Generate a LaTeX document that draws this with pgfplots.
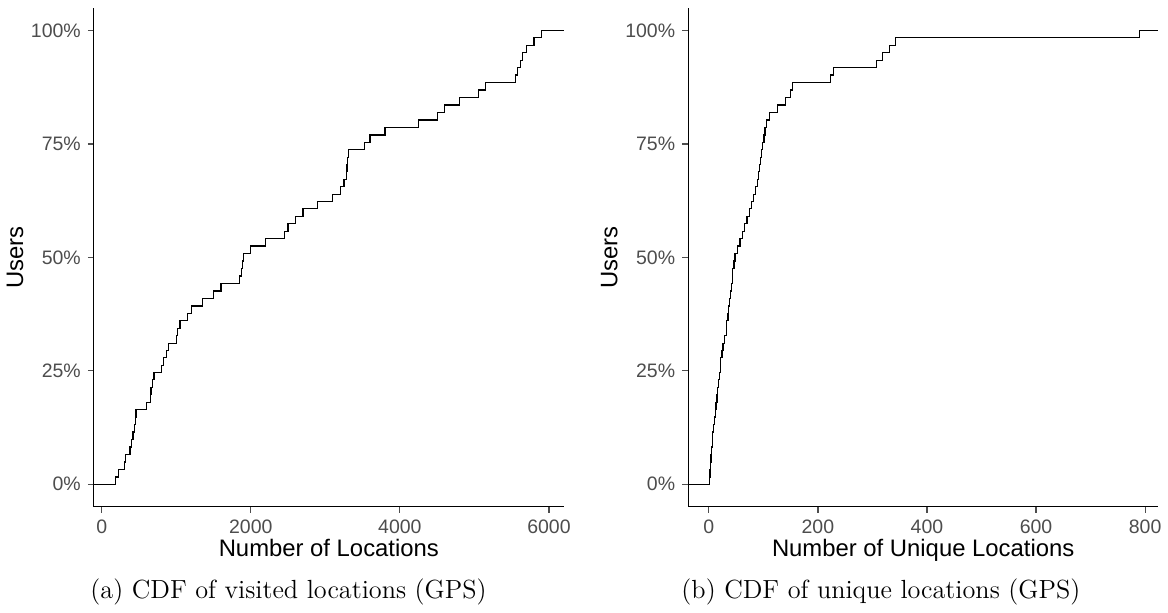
\documentclass[border=0pt]{standalone}
\usepackage{pgfplots}
\pgfplotsset{compat=1.18}
\usepackage{fontspec}
\newfontfamily\hv{Liberation Sans}
\definecolor{tickgray}{RGB}{77,77,77}
\pgfplotsset{gg/.style={
  scale only axis, width=236.5pt, height=251pt,
  axis x line*=bottom, axis y line*=left,
  axis line style={black, line width=0.6pt},
  tick align=outside, major tick length=3pt,
  tick style={tickgray, line width=0.6pt},
  ticklabel style={font=\hv\fontsize{9.8}{11}\selectfont, text=tickgray},
  /pgf/number format/assume math mode=true,
  /pgf/number format/1000 sep={},
  label style={font=\hv\fontsize{12}{14}\selectfont},
  ymin=-5, ymax=105, ytick={0,25,50,75,100},
  yticklabels={0\%,25\%,50\%,75\%,100\%},
  ylabel={Users},
  xlabel style={yshift=4pt}, ylabel style={yshift=-3pt},
  anchor=south west,
}}
\begin{document}
\begin{tikzpicture}
\path (0,0) rectangle (584pt,-307pt);
\begin{axis}[gg, at={(44pt,-255pt)}, xmin=-107, xmax=6200, xtick={0,2000,4000,6000},
  xlabel={Number of Locations}]
\addplot[const plot, black, line width=0.6pt] coordinates {
(-107,0)(190,1.6)(230,3.3)(300,4.9)(320,6.6)(380,8.2)(400,9.8)(420,11.5)(440,13.1)(450,14.8)(460,16.4)
(600,18.0)(650,19.7)(660,21.3)(680,23.0)(700,24.6)(800,26.2)(830,27.9)(870,29.5)(900,31.1)(1000,32.8)
(1020,34.4)(1050,36.1)(1150,37.7)(1200,39.3)(1350,41.0)(1500,42.6)(1600,44.3)(1850,45.9)(1870,47.5)
(1890,49.2)(1900,50.8)(2000,52.5)(2200,54.1)(2450,55.7)(2500,57.4)(2600,59.0)(2700,60.7)(2900,62.3)
(3100,63.9)(3200,65.6)(3250,67.2)(3280,68.9)(3290,70.5)(3300,72.1)(3310,73.8)(3520,75.4)(3600,77.0)
(3800,78.7)(4250,80.3)(4500,82.0)(4600,83.6)(4800,85.2)(5050,86.9)(5150,88.5)(5550,90.2)(5580,91.8)
(5620,93.4)(5650,95.1)(5700,96.7)(5800,98.4)(5900,100)(6200,100)};
\end{axis}
\begin{axis}[gg, at={(343pt,-255pt)}, xmin=-38, xmax=824, xtick={0,200,400,600,800},
  xlabel={Number of Unique Locations}]
\addplot[const plot, black, line width=0.6pt] coordinates {
(-38,0)(1,1.6)(2,3.3)(3,4.9)(4,6.6)(5,8.2)(6,9.8)(7,11.5)(9,13.1)(10,14.8)(12,16.4)(13,18.0)
(15,19.7)(16,21.3)(18,23.0)(19,24.6)(21,26.2)(22,27.9)(24,29.5)(26,31.1)(28,32.8)(32,34.4)
(33,36.1)(35,37.7)(36,39.3)(38,41.0)(39,42.6)(41,44.3)(43,45.9)(44,47.5)(46,49.2)(48,50.8)(52,52.5)
(57,54.1)(62,55.7)(66,57.4)(70,59.0)(74,60.7)(78,62.3)(82,63.9)(86,65.6)(89,67.2)(91,68.9)(93,70.5)
(95,72.1)(97,73.8)(99,75.4)(101,77.0)(103,78.7)(106,80.3)(111,82.0)(126,83.6)(141,85.2)(150,86.9)
(153,88.5)(223,90.2)(229,91.8)(307,93.4)(318,95.1)(332,96.7)(343,98.4)(790,100)(824,100)};
\end{axis}
\node[font=\fontsize{13.2}{16}\selectfont] at (142pt,-298pt) {(a)\ CDF of visited locations (GPS)};
\node[font=\fontsize{13.2}{16}\selectfont] at (440pt,-298pt) {(b)\ CDF of unique locations (GPS)};
\end{tikzpicture}
\end{document}
